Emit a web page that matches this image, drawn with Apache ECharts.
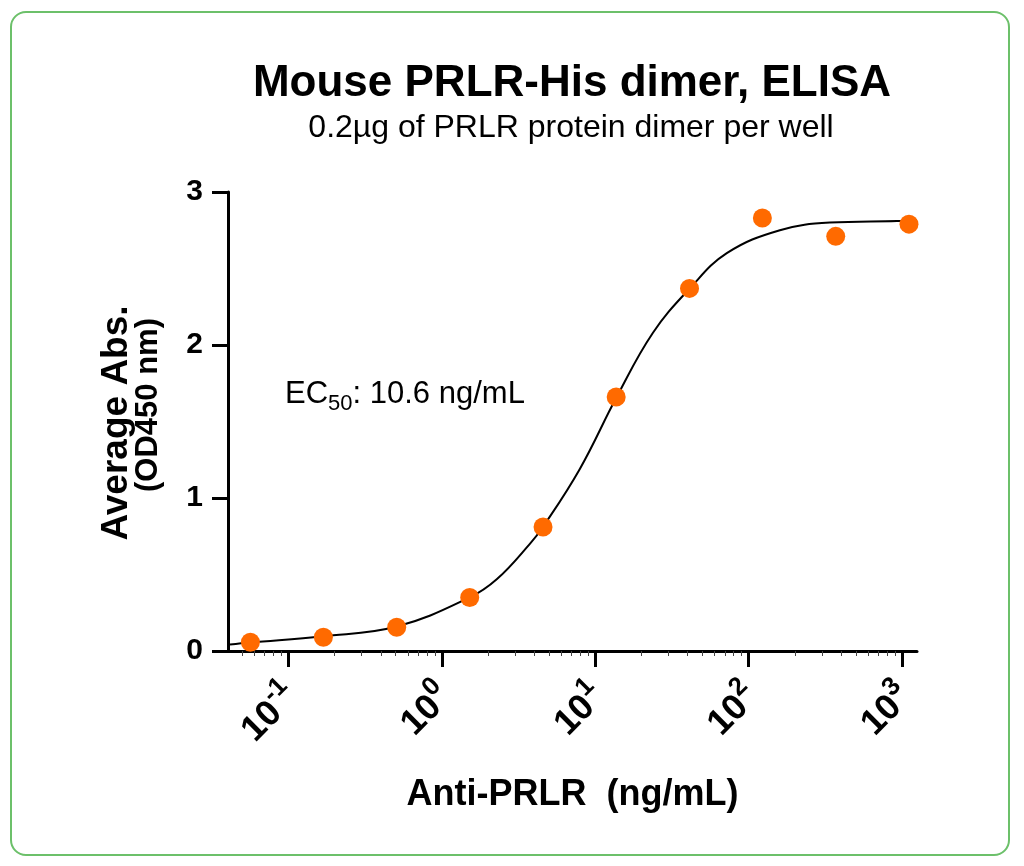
<!DOCTYPE html>
<html>
<head>
<meta charset="UTF-8">
<title>Mouse PRLR-His dimer, ELISA</title>
<script src="https://cdn.jsdelivr.net/npm/echarts@6/dist/echarts.min.js"></script>
<style>
  html, body { margin: 0; padding: 0; background: #fff; }
  #main { width: 1024px; height: 866px; }
</style>
</head>
<body>
<div id="main"></div>
<script>
// measured points: concentration (ng/mL) and mean OD450
var conc = [0.0565, 0.169, 0.508, 1.52, 4.57, 13.7, 41.2, 123, 370, 1111];
var absorb = [0.057, 0.090, 0.155, 0.35, 0.81, 1.66, 2.37, 2.83, 2.71, 2.79];

// fitted curve
var fitConc = [0.0416, 0.0561, 0.168, 0.509, 1.52, 2.29, 3.75, 4.56, 7.94, 13.8, 23.8, 41.4, 72.1, 160, 339, 927, 1250];
var fitAbs = [0.042, 0.055, 0.096, 0.16, 0.35, 0.47, 0.70, 0.81, 1.19, 1.66, 2.08, 2.37, 2.60, 2.75, 2.80, 2.81, 2.815];

// decades shown on the x axis (exponents of 10)
var decades = [-1, 0, 1, 2, 3];
var yTicks = [0, 1, 2, 3];

var FONT = "'Liberation Sans', Arial, Helvetica, sans-serif";

function toLog(xs, ys) {
  var out = [];
  for (var i = 0; i < xs.length; i++) {
    out.push([Math.log10(xs[i]), ys[i]]);
  }
  return out;
}

// minor ticks at 2..9 of every decade
var minorTicks = [];
for (var n = -2; n <= 3; n++) {
  for (var k = 2; k <= 9; k++) {
    var v = Math.log10(k) + n;
    if (v > -1.394 && v < 3.098) minorTicks.push(v);
  }
}

var chart = echarts.init(document.getElementById('main'));

var option = {
  backgroundColor: '#fff',
  animation: false,
  grid: { left: 228, right: 107, top: 192, bottom: 215, containLabel: false },
  xAxis: [
    {
      type: 'value',
      min: -1.394,
      max: 3.098,
      name: 'Anti-PRLR  (ng/mL)',
      nameLocation: 'middle',
      nameGap: 126,
      nameTextStyle: { fontFamily: FONT, fontSize: 36, fontWeight: 'bold', color: '#000' },
      splitLine: { show: false },
      axisLine: { show: true, onZero: false, lineStyle: { color: '#000', width: 3 } },
      axisTick: {
        show: true, length: 16, customValues: decades,
        lineStyle: { color: '#000', width: 3 }
      },
      axisLabel: {
        show: true,
        customValues: decades,
        rotate: 45,
        margin: 36,
        fontFamily: FONT,
        fontSize: 36,
        fontWeight: 'bold',
        color: '#000',
        formatter: function (v) { return '{b|10}{s|' + v + '}'; },
        rich: {
          b: { fontFamily: FONT, fontSize: 36, fontWeight: 'bold', color: '#000', lineHeight: 48, verticalAlign: 'bottom' },
          s: { fontFamily: FONT, fontSize: 26, fontWeight: 'bold', color: '#000', lineHeight: 48, verticalAlign: 'bottom', padding: [0, 0, 18, 0] }
        }
      }
    },
    {
      type: 'value',
      min: -1.394,
      max: 3.098,
      position: 'bottom',
      splitLine: { show: false },
      axisLine: { show: false, onZero: false },
      axisLabel: { show: false },
      axisTick: {
        show: true, length: 5, customValues: minorTicks,
        lineStyle: { color: '#444', width: 1 }
      }
    }
  ],
  yAxis: {
    type: 'value',
    min: 0,
    max: 3,
    interval: 1,
    splitLine: { show: false },
    axisLine: { show: true, onZero: false, lineStyle: { color: '#000', width: 3 } },
    axisTick: { show: true, length: 16, lineStyle: { color: '#000', width: 3 } },
    axisLabel: {
      margin: 25,
      fontFamily: FONT, fontSize: 30, fontWeight: 'bold', color: '#000',
      formatter: function (v) { return yTicks.indexOf(v) >= 0 ? String(v) : ''; }
    }
  },
  graphic: [
    {
      type: 'rect',
      shape: { x: 11, y: 12, width: 998, height: 843, r: 15 },
      style: { fill: 'none', stroke: '#6cc06a', lineWidth: 2 },
      z: -10
    },
    {
      type: 'text',
      x: 572, y: 84,
      style: {
        text: 'Mouse PRLR-His dimer, ELISA', align: 'center', verticalAlign: 'middle',
        font: 'bold 44px ' + FONT, fill: '#000'
      }
    },
    {
      type: 'text',
      x: 571, y: 128,
      style: {
        text: '0.2µg of PRLR protein dimer per well', align: 'center', verticalAlign: 'middle',
        font: '32px ' + FONT, fill: '#000'
      }
    },
    {
      type: 'text',
      x: 117, y: 423, rotation: Math.PI / 2,
      style: {
        text: 'Average Abs.', align: 'center', verticalAlign: 'middle',
        font: 'bold 37px ' + FONT, fill: '#000'
      }
    },
    {
      type: 'text',
      x: 148, y: 405, rotation: Math.PI / 2,
      style: {
        text: '(OD450 nm)', align: 'center', verticalAlign: 'middle',
        font: 'bold 31px ' + FONT, fill: '#000'
      }
    },
    {
      type: 'text',
      x: 285, y: 394,
      style: {
        text: '{a|EC}{s|50}{a|: 10.6 ng/mL}',
        verticalAlign: 'middle',
        rich: {
          a: { fontFamily: FONT, fontSize: 31, color: '#000', lineHeight: 42 },
          s: { fontFamily: FONT, fontSize: 22, color: '#000', lineHeight: 42, verticalAlign: 'bottom' }
        }
      }
    }
  ],
  series: [
    {
      name: 'fit',
      type: 'line',
      data: toLog(fitConc, fitAbs),
      smooth: 0.4,
      showSymbol: false,
      symbol: 'none',
      lineStyle: { color: '#000', width: 2 },
      z: 2
    },
    {
      name: 'OD450',
      type: 'scatter',
      data: toLog(conc, absorb),
      symbol: 'circle',
      symbolSize: 19,
      itemStyle: { color: '#ff6a00', opacity: 1 },
      z: 3
    }
  ]
};

chart.setOption(option);
</script>
</body>
</html>
